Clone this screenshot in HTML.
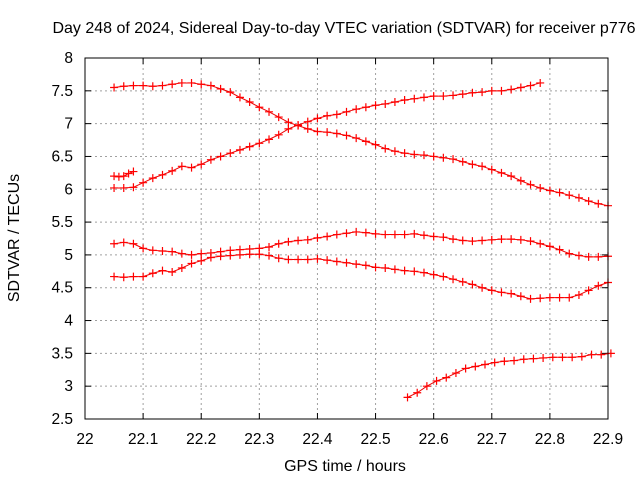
<!DOCTYPE html>
<html><head><meta charset="utf-8"><style>
body{margin:0;background:#fff}
svg text{font-family:"Liberation Sans",sans-serif;font-size:15.5px;fill:#000}
</style></head><body>
<svg id="c" width="640" height="480" xmlns="http://www.w3.org/2000/svg">
<rect width="640" height="480" fill="#fff"/>
<text x="344" y="33" text-anchor="middle" style="font-size:16px">Day 248 of 2024, Sidereal Day-to-day VTEC variation (SDTVAR) for receiver p776</text>
<text x="345" y="471" text-anchor="middle" style="font-size:16px">GPS time / hours</text>
<text transform="translate(19,238) rotate(-90)" text-anchor="middle" style="font-size:16px">SDTVAR / TECUs</text>
<g id="grid"></g>
<g id="axes"></g>
<g id="series"></g>
<rect x="85" y="58" width="523" height="361" fill="none" stroke="#000" stroke-width="1"/>
</svg>
<script>
const xTicks=[22,22.1,22.2,22.3,22.4,22.5,22.6,22.7,22.8,22.9];
const xTickLabels=["22","22.1","22.2","22.3","22.4","22.5","22.6","22.7","22.8","22.9"];
const yTicks=[2.5,3,3.5,4,4.5,5,5.5,6,6.5,7,7.5,8];
const yTickLabels=["2.5","3","3.5","4","4.5","5","5.5","6","6.5","7","7.5","8"];
const seriesStarts=[22.05,22.05,22.05,22.05,22.05,22.555];
const seriesSteps=[1/60,1/120,1/60,1/60,1/60,1/60];
const seriesA=[7.55,7.57,7.58,7.58,7.57,7.58,7.6,7.62,7.62,7.6,7.58,7.53,7.48,7.4,7.33,7.25,7.18,7.1,7.02,6.97,6.92,6.88,6.87,6.85,6.82,6.78,6.73,6.68,6.62,6.58,6.55,6.53,6.52,6.5,6.48,6.46,6.42,6.38,6.35,6.3,6.25,6.2,6.13,6.07,6.02,5.98,5.95,5.91,5.87,5.82,5.78,5.75];
const seriesB=[6.2,6.19,6.2,6.24,6.27];
const seriesC=[6.02,6.02,6.03,6.1,6.17,6.22,6.28,6.35,6.33,6.38,6.45,6.5,6.55,6.6,6.65,6.7,6.76,6.83,6.92,6.98,7.03,7.08,7.12,7.14,7.18,7.22,7.25,7.28,7.3,7.33,7.36,7.38,7.4,7.42,7.42,7.43,7.45,7.47,7.48,7.5,7.5,7.52,7.55,7.58,7.62];
const seriesD=[5.17,5.19,5.17,5.1,5.07,5.06,5.05,5.02,5.0,5.02,5.03,5.05,5.07,5.08,5.09,5.1,5.12,5.17,5.2,5.22,5.23,5.26,5.28,5.31,5.33,5.35,5.34,5.32,5.31,5.31,5.31,5.32,5.3,5.28,5.27,5.24,5.22,5.21,5.22,5.23,5.24,5.24,5.23,5.21,5.17,5.13,5.08,5.02,4.99,4.97,4.97,4.98];
const seriesE=[4.67,4.66,4.67,4.67,4.72,4.76,4.74,4.8,4.87,4.91,4.96,4.98,4.99,5.0,5.01,5.01,4.99,4.95,4.93,4.93,4.93,4.94,4.92,4.9,4.88,4.86,4.84,4.81,4.8,4.78,4.76,4.75,4.73,4.7,4.67,4.63,4.59,4.55,4.5,4.46,4.43,4.41,4.37,4.33,4.34,4.35,4.35,4.35,4.39,4.46,4.53,4.58];
const seriesF=[2.83,2.9,3.0,3.08,3.13,3.2,3.27,3.3,3.33,3.36,3.38,3.39,3.41,3.42,3.43,3.44,3.44,3.44,3.45,3.48,3.48,3.5];
const allSeries=[seriesA,seriesB,seriesC,seriesD,seriesE,seriesF];
const NS="http://www.w3.org/2000/svg";
const X0=85,X1=608,Y0=419,Y1=58;
function xs(t){return X0+(t-22)/(22.9-22)*(X1-X0);}
function ys(v){return Y0-(v-2.5)/(8-2.5)*(Y0-Y1);}
function mk(tag,attrs,parent){const e=document.createElementNS(NS,tag);for(const k in attrs)e.setAttribute(k,attrs[k]);parent.appendChild(e);return e;}
const grid=document.getElementById('grid'),axes=document.getElementById('axes'),ser=document.getElementById('series');
xTicks.forEach((t,i)=>{const x=xs(t);
 if(i>0&&i<xTicks.length-1){const g=mk('line',{x1:x,x2:x,y1:Y1,y2:Y0,stroke:'#a0a0a0','stroke-dasharray':'2,3'},grid);}
 const a=mk('line',{x1:x,x2:x,y1:Y0,y2:Y0-6,stroke:'#000'},axes);
 const b=mk('line',{x1:x,x2:x,y1:Y1,y2:Y1+6,stroke:'#000'},axes);
 const tx=mk('text',{x:x,y:444,'text-anchor':'middle'},axes);tx.textContent=xTickLabels[i];
});
yTicks.forEach((v,i)=>{const y=ys(v);
 if(i>0&&i<yTicks.length-1){const g=mk('line',{x1:X0,x2:X1,y1:y,y2:y,stroke:'#a0a0a0','stroke-dasharray':'2,3'},grid);}
 const a=mk('line',{x1:X0,x2:X0+6,y1:y,y2:y,stroke:'#000'},axes);
 const b=mk('line',{x1:X1,x2:X1-6,y1:y,y2:y,stroke:'#000'},axes);
 const tx=mk('text',{x:73,y:y+5,'text-anchor':'end'},axes);tx.textContent=yTickLabels[i];
});
allSeries.forEach((vals,s)=>{
 const g=mk('g',{},ser);
 const pts=vals.map((v,i)=>[xs(seriesStarts[s]+i*seriesSteps[s]),ys(v)]);
 const pl=mk('polyline',{points:pts.map(p=>p.join(',')).join(' '),fill:'none',stroke:'#e00',"stroke-width":1},g);
 
 pts.forEach(p=>{const m=mk('path',{d:`M${p[0]-4},${p[1]}h8M${p[0]},${p[1]-4}v8`,stroke:'#f00','stroke-width':1.2},g);
  });
});
</script>
</body></html>
